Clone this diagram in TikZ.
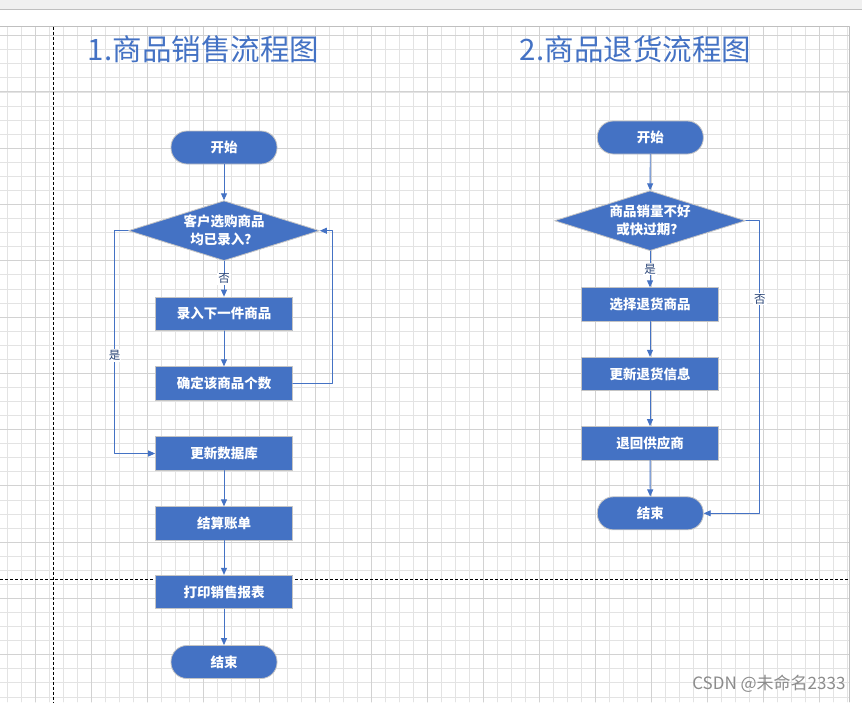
\documentclass[tikz,border=0pt]{standalone}
\usepackage{fontspec}
\setmainfont{Noto Sans CJK SC}
\usepackage{xcolor}
\usetikzlibrary{arrows.meta,shapes.geometric}
\definecolor{fcblue}{HTML}{4472C4}
\definecolor{fcedge}{HTML}{C4C4C4}
\definecolor{gridminor}{HTML}{E3E3E3}
\definecolor{gridmajor}{HTML}{D2D2D2}
\tikzset{
  every picture/.append style={line cap=round,line join=round},
  fc terminal/.style={rounded corners=16pt,fill=fcblue,draw=fcedge,line width=0.8pt,text=white,font=\fontsize{13.5}{17}\selectfont\bfseries,minimum width=106pt,minimum height=33pt,inner sep=0pt},
  fc process/.style={rectangle,fill=fcblue,draw=fcedge,line width=0.8pt,text=white,font=\fontsize{13.5}{17}\selectfont\bfseries,minimum width=137pt,minimum height=33.5pt,inner sep=0pt},
  fc decision/.style={diamond,aspect=3.18,fill=fcblue,draw=fcedge,line width=0.8pt,text=white,font=\fontsize{13.5}{18}\selectfont\bfseries,align=center,minimum width=191pt,minimum height=60pt,inner sep=0pt},
  fc arrow/.style={fcblue,line width=0.9pt,-{Triangle[length=7pt,width=6pt]}},
  fc label/.style={fill=white,text=fcblue!60!black,font=\fontsize{11.5}{13}\selectfont,inner sep=1pt},
  fc title/.style={text=fcblue,font=\fontsize{29.5}{35}\selectfont},
  grid minor/.style={gridminor,line width=0.7pt},
  grid major/.style={gridmajor,line width=0.8pt},
  page break/.style={black,line width=0.8pt,dash pattern=on 3pt off 2pt,line cap=butt}
}
\begin{document}
\begin{tikzpicture}[x=1pt,y=-1pt]
  \useasboundingbox (0,0) rectangle (862,702);
  % page background
  \fill[white] (0,0) rectangle (862,702);
  \fill[black!6] (0,0) rectangle (862,9.5);
  \draw[black!25,line width=0.8pt] (0,9.5) -- (862,9.5);
  \foreach \i in {0,...,60}
    \draw[grid minor] ({7.6+14*\i},26.5) -- ({7.6+14*\i},702);
  \foreach \j in {0,...,47}
    \draw[grid minor] (0,{35.6+14.07*\j}) -- (849.3,{35.6+14.07*\j});
  \foreach \i in {2,6,...,58}
    \draw[grid major] ({7.6+14*\i},26.5) -- ({7.6+14*\i},702);
  \foreach \j in {0,4,...,44}
    \draw[grid major] (0,{35.6+14.07*\j}) -- (849.3,{35.6+14.07*\j});
  \draw[black!25,line width=0.9pt] (0,26.5) -- (849.3,26.5) -- (849.3,702);
  \draw[page break] (53.5,26.5) -- (53.5,702);
  \draw[page break] (0,579) -- (849.3,579);

  % titles
  \node[fc title] (t1) at (203.5,49) {1.商品销售流程图};
  \node[fc title] (t2) at (635.5,49) {2.商品退货流程图};

  % sales flow
  \node[fc terminal] (ls) at (224,147.5) {开始};
  \node[fc decision] (ld) at (224,230.7) {客户选购商品\\均已录入？};
  \node[fc process] (lp1) at (224,313.8) {录入下一件商品};
  \node[fc process] (lp2) at (224,383.5) {确定该商品个数};
  \node[fc process] (lp3) at (224,453.5) {更新数据库};
  \node[fc process] (lp4) at (224,523.5) {结算账单};
  \node[fc process] (lp5) at (224,592) {打印销售报表};
  \node[fc terminal] (le) at (224,662) {结束};

  \draw[fc arrow] (ls) -- (ld);
  \draw[fc arrow] (ld) -- node[fc label] {否} (lp1);
  \draw[fc arrow] (lp1) -- (lp2);
  \draw[fc arrow] (lp2.east) -- ++(40,0) |- (ld.east);
  \draw[fc arrow] (ld.west) -- ++(-13.5,0) |- node[fc label,pos=0.28] {是} (lp3.west);
  \draw[fc arrow] (lp3) -- (lp4);
  \draw[fc arrow] (lp4) -- (lp5);
  \draw[fc arrow] (lp5) -- (le);

  % return flow
  \node[fc terminal] (rs) at (650.3,137.5) {开始};
  \node[fc decision] (rd) at (650,220.7) {商品销量不好\\或快过期？};
  \node[fc process] (rp1) at (650,304.5) {选择退货商品};
  \node[fc process] (rp2) at (650,374) {更新退货信息};
  \node[fc process] (rp3) at (650,443.3) {退回供应商};
  \node[fc terminal] (re) at (650.3,513.3) {结束};

  \draw[fc arrow] (rs) -- (rd);
  \draw[fc arrow] (rd) -- node[fc label] {是} (rp1);
  \draw[fc arrow] (rp1) -- (rp2);
  \draw[fc arrow] (rp2) -- (rp3);
  \draw[fc arrow] (rp3) -- (re);
  \draw[fc arrow] (rd.east) -- ++(14,0) |- node[fc label,pos=0.134] {否} (re.east);

  \node[anchor=east,text=black!45,font=\fontsize{17}{20}\selectfont] (mark) at (849,684) {CSDN @未命名2333};
\end{tikzpicture}
\end{document}
